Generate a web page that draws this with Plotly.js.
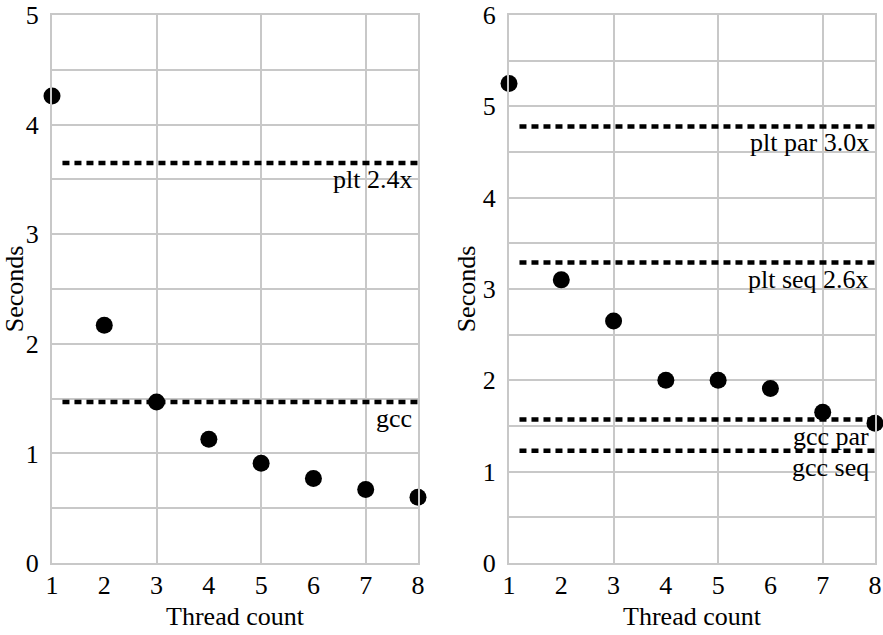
<!DOCTYPE html>
<html><head><meta charset="utf-8">
<script src="https://cdn.plot.ly/plotly-3.0.1.min.js"></script>
<style>html,body{margin:0;padding:0;background:#fff}#chart{width:883px;height:635px}</style>
</head><body><div id="chart"></div>
<script>
const threads = [1, 2, 3, 4, 5, 6, 7, 8];
const leftSeconds = [4.26, 2.17, 1.47, 1.13, 0.91, 0.77, 0.67, 0.60];
const rightSeconds = [5.25, 3.10, 2.65, 2.00, 2.00, 1.91, 1.65, 1.53];
const refSpan = [1.2, 8];
const leftRefNames = ["plt 2.4x", "gcc"];
const leftRefValues = [3.65, 1.47];
const rightRefNames = ["plt par 3.0x", "plt seq 2.6x", "gcc par", "gcc seq"];
const rightRefValues = [4.78, 3.29, 1.57, 1.23];

const FONT = "Liberation Serif, Times New Roman, serif";
const FS = 26;
const GRID = "#c8c8c8";
const traces = [];
const annotations = [];

function addPanel(xa, ya, values, refNames, refValues) {
  refNames.forEach((name, i) => {
    traces.push({x: refSpan, y: [refValues[i], refValues[i]], xaxis: xa, yaxis: ya,
      mode: "lines", line: {color: "#000", width: 4.5, dash: "7px,5px"},
      hoverinfo: "skip", showlegend: false});
    annotations.push({xref: xa, yref: ya, x: 8, y: refValues[i], text: name,
      showarrow: false, xanchor: "right", yanchor: "top", xshift: -4, yshift: 0,
      font: {family: FONT, size: FS, color: "#000"}});
  });
  traces.push({x: threads, y: values, xaxis: xa, yaxis: ya, mode: "markers",
    marker: {color: "#000", size: 17}, cliponaxis: false, showlegend: false});
}
addPanel("x", "y", leftSeconds, leftRefNames, leftRefValues);
addPanel("x2", "y2", rightSeconds, rightRefNames, rightRefValues);

function xaxis(domain, anchor) {
  return {domain: domain, anchor: anchor, range: [1, 8], tickvals: threads,
    showgrid: false, zeroline: false, showline: true, linecolor: GRID, linewidth: 2,
    mirror: true, ticks: "", ticklabelstandoff: -2,
    tickfont: {family: FONT, size: FS, color: "#000"},
    title: {text: "Thread count", font: {family: FONT, size: FS, color: "#000"}, standoff: 8}};
}
function gridx(domain, anchor, overlay) {
  return {domain: domain, anchor: anchor, overlaying: overlay, range: [1, 8], tick0: 1, dtick: 2,
    showgrid: true, gridcolor: GRID, gridwidth: 2, showticklabels: false, ticks: "",
    zeroline: false, showline: false};
}
function yaxis(anchor, max) {
  return {domain: [0, 1], anchor: anchor, range: [0, max], dtick: 1,
    showgrid: true, gridcolor: GRID, gridwidth: 2,
    minor: {dtick: 0.5, showgrid: true, gridcolor: GRID, gridwidth: 2},
    zeroline: false, showline: true, linecolor: GRID, linewidth: 2, mirror: true, ticks: "",
    ticklabelstandoff: 6,
    tickfont: {family: FONT, size: FS, color: "#000"},
    title: {text: "Seconds", font: {family: FONT, size: FS, color: "#000"}, standoff: 0}};
}
// invisible traces to activate grid overlay axes
traces.push({x: [1], y: [0], xaxis: "x3", yaxis: "y", mode: "markers", marker: {opacity: 0}, hoverinfo: "skip", showlegend: false});
traces.push({x: [1], y: [0], xaxis: "x4", yaxis: "y2", mode: "markers", marker: {opacity: 0}, hoverinfo: "skip", showlegend: false});

const leftDom = [0, 0.4447];
const rightDom = [0.5553, 1];
const layout = {
  width: 883, height: 635,
  margin: {l: 52, r: 8, t: 15, b: 72},
  paper_bgcolor: "#fff", plot_bgcolor: "rgba(0,0,0,0)",
  showlegend: false,
  xaxis: xaxis(leftDom, "y"),
  xaxis2: xaxis(rightDom, "y2"),
  xaxis3: gridx(leftDom, "y", "x"),
  xaxis4: gridx(rightDom, "y2", "x2"),
  yaxis: yaxis("x", 5),
  yaxis2: yaxis("x2", 6),
  annotations: annotations
};
Plotly.newPlot("chart", traces, layout, {staticPlot: true});
</script></body></html>
